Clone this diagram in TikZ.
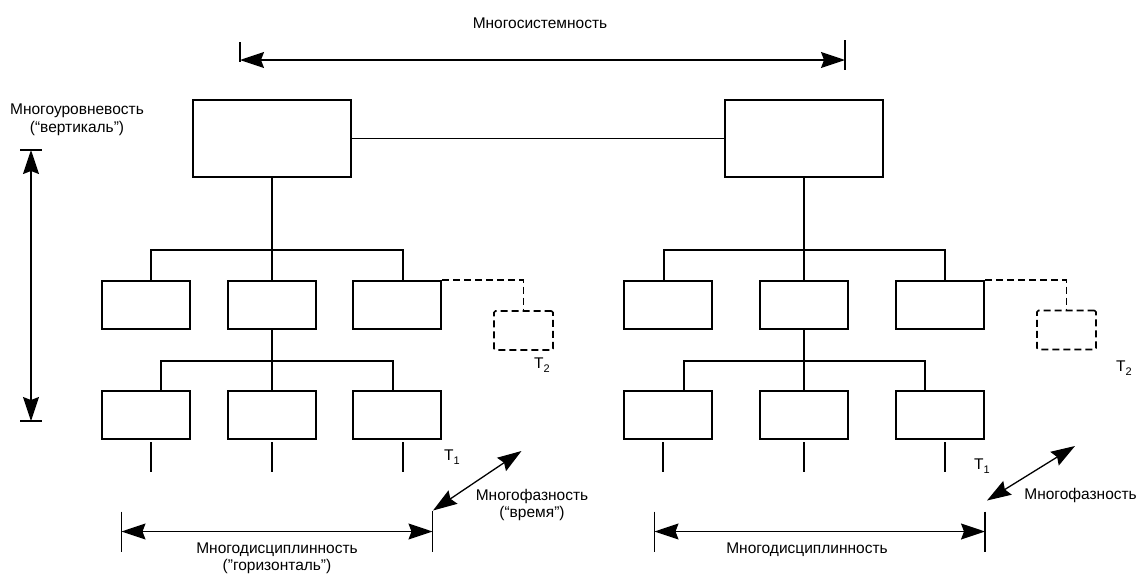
\documentclass[tikz,border=0pt]{standalone}
\usepackage{fontspec}
\setmainfont{Liberation Sans}
\usetikzlibrary{arrows.meta}
\begin{document}
\begin{tikzpicture}[x=1pt,y=-1pt,
  every node/.style={font=\fontsize{15.5}{17.5}\selectfont},
  bigbox/.style={draw,line width=2.2pt,minimum width=158pt,minimum height=77pt,inner sep=0pt},
  unit/.style={draw,line width=2.2pt,minimum width=88pt,minimum height=48pt,inner sep=0pt},
  ghost/.style={draw,line width=1.7pt,dash pattern=on 7pt off 4pt,rounded corners=1.5pt,minimum width=59pt,minimum height=39pt,inner sep=0pt},
  conn/.style={line width=1.2pt},
  dashline/.style={line width=1.7pt,dash pattern=on 7pt off 4pt},
  bar/.style={line width=1.3pt},
  dim/.style={line width=1.3pt,{Stealth[length=24pt,width=16pt,inset=3pt]}-{Stealth[length=24pt,width=16pt,inset=3pt]}},
  lbl/.style={inner sep=0pt,align=center},
  tlbl/.style={inner sep=0pt}]
\useasboundingbox (0,0) rectangle (1138,574);

% --- left system ---
\node[bigbox] (L0) at (272,138.5) {};
\node[unit] (Lm1) at (146,305) {};
\node[unit] (Lm2) at (272,305) {};
\node[unit] (Lm3) at (397,305) {};
\node[unit] (Lb1) at (146,415) {};
\node[unit] (Lb2) at (272,415) {};
\node[unit] (Lb3) at (397,415) {};
\node[ghost] (Lg) at (523.5,330.5) {};
\coordinate (Lbus1) at (272,250);
\coordinate (Lbus2) at (272,361);

\draw[conn] (L0.south) -- (Lm2.north);
\draw[conn] ([xshift=5pt]Lm1.north) |- (Lbus1) -| ([xshift=6pt]Lm3.north);
\draw[conn] (Lm2.south) -- (Lb2.north);
\draw[conn] ([xshift=15pt]Lb1.north) |- (Lbus2) -| ([xshift=-4pt]Lb3.north);
\draw[conn] ([xshift=5pt,yshift=-2pt]Lb1.south) -- ++(0,30);
\draw[conn] ([yshift=-2pt]Lb2.south) -- ++(0,30);
\draw[conn] ([xshift=6pt,yshift=-2pt]Lb3.south) -- ++(0,30);
\draw[dashline] (Lm3.north east) -| (Lg.north);

% --- right system ---
\node[bigbox] (R0) at (804,138.5) {};
\node[unit] (Rm1) at (668,305) {};
\node[unit] (Rm2) at (804,305) {};
\node[unit] (Rm3) at (940,305) {};
\node[unit] (Rb1) at (668,415) {};
\node[unit] (Rb2) at (804,415) {};
\node[unit] (Rb3) at (940,415) {};
\node[ghost] (Rg) at (1066.5,330) {};
\coordinate (Rbus1) at (804,250);
\coordinate (Rbus2) at (804,361);

\draw[conn] (R0.south) -- (Rm2.north);
\draw[conn] ([xshift=-4pt]Rm1.north) |- (Rbus1) -| ([xshift=5pt]Rm3.north);
\draw[conn] (Rm2.south) -- (Rb2.north);
\draw[conn] ([xshift=16pt]Rb1.north) |- (Rbus2) -| ([xshift=-15pt]Rb3.north);
\draw[conn] ([xshift=-5pt,yshift=-2pt]Rb1.south) -- ++(0,30);
\draw[conn] ([yshift=-2pt]Rb2.south) -- ++(0,30);
\draw[conn] ([xshift=5pt,yshift=-2pt]Rb3.south) -- ++(0,30);
\draw[dashline] (Rm3.north east) -| (Rg.north);

% link between the two systems
\draw[conn] (L0.east) -- (R0.west);

% --- dimension arrows ---
\coordinate (sysA) at (240,60);
\coordinate (sysB) at (845,60);
\draw[bar] ([yshift=18pt]sysA) -- ([yshift=-2pt]sysA);
\draw[bar] ([yshift=20pt]sysB) -- ([yshift=-10pt]sysB);
\draw[dim] (sysA) -- (sysB);

\coordinate (lvA) at (31,150);
\coordinate (lvB) at (31,421);
\draw[bar] ([xshift=-11pt]lvA) -- ([xshift=11pt]lvA);
\draw[bar] ([xshift=-11pt]lvB) -- ([xshift=11pt]lvB);
\draw[dim] (lvA) -- (lvB);

\coordinate (hLA) at (121.5,531.5);
\coordinate (hLB) at (432.5,531.5);
\draw[bar] ([yshift=20pt]hLA) -- ([yshift=-20pt]hLA);
\draw[bar] ([yshift=21pt]hLB) -- ([yshift=-20pt]hLB);
\draw[dim] (hLA) -- (hLB);
\coordinate (phL1) at (433,510.5);
\coordinate (phL2) at (521.5,451);
\draw[dim] (phL1) -- (phL2);

\coordinate (hRA) at (654.5,531.5);
\coordinate (hRB) at (985,531.5);
\draw[bar] ([yshift=20pt]hRA) -- ([yshift=-20pt]hRA);
\draw[bar] ([yshift=20pt]hRB) -- ([yshift=-20pt]hRB);
\draw[dim] (hRA) -- (hRB);
\coordinate (phR1) at (987,500.5);
\coordinate (phR2) at (1075,446);
\draw[dim] (phR1) -- (phR2);

% --- labels ---
\node[lbl] (tSys) at (540,23) {Многосистемность};
\node[lbl] (tLvl) at (77,120) {Многоуровневость\\(“вертикаль”)};
\node[lbl] (tDisL) at (277,558.5) {Многодисциплинность\\("горизонталь")};
\node[lbl] (tDisR) at (807,550) {Многодисциплинность};
\node[lbl] (tPhL) at (532,505) {Многофазность\\(“время”)};
\node[lbl,anchor=east] (tPhR) at (1137,495) {Многофазность};
\node[tlbl] (t1L) at (452,457) {T\raisebox{-0.45ex}{\fontsize{11}{11}\selectfont 1}};
\node[tlbl] (t1R) at (982,466) {T\raisebox{-0.45ex}{\fontsize{11}{11}\selectfont 1}};
\node[tlbl] (t2L) at (542,365) {T\raisebox{-0.45ex}{\fontsize{11}{11}\selectfont 2}};
\node[tlbl] (t2R) at (1124,368) {T\raisebox{-0.45ex}{\fontsize{11}{11}\selectfont 2}};
\end{tikzpicture}
\end{document}
